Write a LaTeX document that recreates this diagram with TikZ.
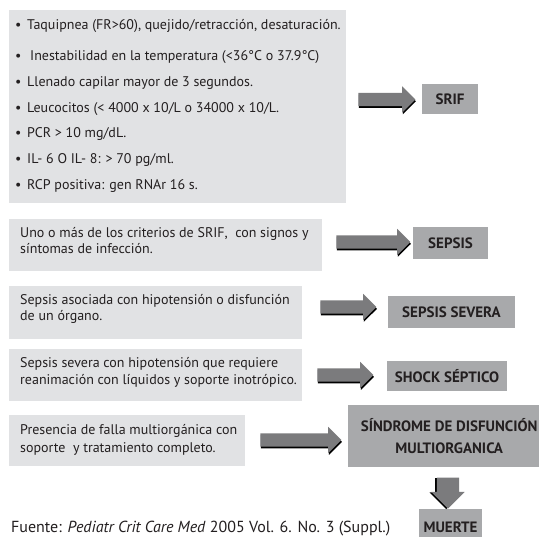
\documentclass[tikz,border=0pt]{standalone}
\usepackage{fontspec}
\setmainfont{PT Sans}
\usetikzlibrary{shapes.arrows,shadows}
\definecolor{boxgray}{HTML}{E1E2E4}
\definecolor{labgray}{HTML}{A8A9AB}
\definecolor{arrgray}{HTML}{7B7B7D}
\definecolor{txt}{HTML}{231F20}
\begin{document}
\begin{tikzpicture}[x=1pt,y=-1pt,
  every node/.style={text=txt},
  infobox/.style={fill=boxgray, inner sep=0pt, anchor=north west},
  bodytext/.style={anchor=base west, inner sep=0pt, font=\fontsize{14}{16}\selectfont},
  labelbox/.style={fill=labgray, inner sep=0pt, align=center, font=\fontsize{15}{22}\selectfont\bfseries},
  blockarrow/.style={single arrow, fill=arrgray, draw=none, inner sep=0pt,
    minimum width=26pt, single arrow head extend=6.5pt,
    drop shadow={fill=black, opacity=1, shadow xshift=0.6pt, shadow yshift=-1.8pt}},
  downarrow/.style={single arrow, fill=arrgray, draw=none, inner sep=0pt,
    rotate=-90, minimum width=33pt, single arrow head extend=5.5pt,
    drop shadow={fill=black, opacity=1, shadow xshift=-1.8pt, shadow yshift=-0.6pt}}
]
\useasboundingbox (0,0) rectangle (539,537);
\fill[white] (0,0) rectangle (539,537);

% box 1
\node[infobox, minimum width=337pt, minimum height=193pt] (b1) at (9,10) {};
\node[bodytext] (l1) at (15,30) {\makebox[12pt][l]{•}Taquipnea (FR>60), quejido/retracción, desaturación.};
\node[bodytext] (l2) at (15,61) {\makebox[15pt][l]{•}Inestabilidad en la temperatura (<36°C o 37.9°C)};
\node[bodytext] (l3) at (15,87) {\makebox[12pt][l]{•}Llenado capilar mayor de 3 segundos.};
\node[bodytext] (l4) at (15,113) {\makebox[12pt][l]{•}Leucocitos (< 4000 x 10/L o 34000 x 10/L.};
\node[bodytext] (l5) at (15,138) {\makebox[12pt][l]{•}PCR > 10 mg/dL.};
\node[bodytext] (l6) at (15,164) {\makebox[12pt][l]{•}IL- 6 O IL- 8: > 70 pg/ml.};
\node[bodytext] (l7) at (15,190) {\makebox[12pt][l]{•}RCP positiva: gen RNAr 16 s.};

% box 2-5
\node[infobox, minimum width=313pt, minimum height=52pt] (b2) at (9,219) {};
\node[bodytext] (t2a) at (20,238) {Uno o más de los criterios de SRIF,\ \ con signos y};
\node[bodytext] (t2b) at (20,254) {síntomas de infección.};

\node[infobox, minimum width=293pt, minimum height=53pt] (b3) at (9,286) {};
\node[bodytext] (t3a) at (20,305) {Sepsis asociada con hipotensión o disfunción};
\node[bodytext] (t3b) at (20,321) {de un órgano.};

\node[infobox, minimum width=293pt, minimum height=52pt] (b4) at (9,349) {};
\node[bodytext] (t4a) at (20,368) {Sepsis severa con hipotensión que requiere};
\node[bodytext] (t4b) at (20,385) {reanimación con líquidos y soporte inotrópico.};

\node[infobox, minimum width=236pt, minimum height=51pt] (b5) at (9,415) {};
\node[bodytext] (t5a) at (20,435) {Presencia de falla multiorgánica con};
\node[bodytext] (t5b) at (20,453) {soporte\ \ y tratamiento completo.};

% labels
\node[labelbox, minimum width=56pt, minimum height=30pt] (srif) at (450,99) {SRIF};
\node[labelbox, minimum width=75pt, minimum height=32pt] (sepsis) at (450.5,243) {SEPSIS};
\node[labelbox, minimum width=127pt, minimum height=32pt] (severa) at (451.5,312) {SEPSIS SEVERA};
\node[labelbox, minimum width=120pt, minimum height=30pt] (shock) at (447,376) {SHOCK SÉPTICO};
\node[labelbox, minimum width=212pt, minimum height=62pt, anchor=west] (sdmo) at (348,436)
  {\hspace*{-10pt}SÍNDROME DE DISFUNCIÓN\\\hspace*{-10pt}MULTIORGANICA};
\node[labelbox, minimum width=63pt, minimum height=36pt, anchor=north] (muerte) at (450.5,509) {\raisebox{-2pt}{MUERTE}};

% arrows
\node[blockarrow, minimum height=57pt] (a1) at (383.5,99.5) {\rule{0pt}{13pt}};
\node[blockarrow, minimum height=74pt] (a2) at (370,242) {\rule{0pt}{13pt}};
\node[blockarrow, minimum height=56pt] (a3) at (345,307) {\rule{0pt}{13pt}};
\node[blockarrow, minimum height=56pt] (a4) at (342,375) {\rule{0pt}{13pt}};
\node[blockarrow, minimum height=81pt] (a5) at (297.5,440) {\rule{0pt}{13pt}};
\node[downarrow, minimum height=31pt] (a6) at (448,487.5) {\rule{0pt}{22pt}};

% source
\node[anchor=base west, inner sep=0pt, font=\fontsize{16}{18}\selectfont] (src) at (11,533)
  {Fuente: \textit{Pediatr Crit Care Med} 2005 Vol. 6. No. 3 (Suppl.)};
\end{tikzpicture}
\end{document}
